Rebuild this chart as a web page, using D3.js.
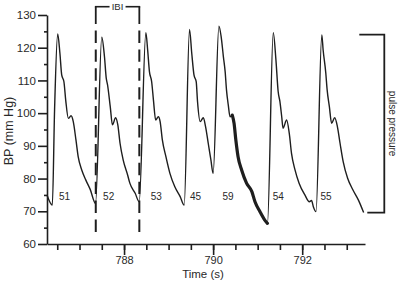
<!DOCTYPE html>
<html>
<head>
<meta charset="utf-8">
<script src="https://cdn.jsdelivr.net/npm/d3@7"></script>
<style>
  html, body { margin: 0; padding: 0; background: #fff; }
  svg { display: block; font-family: "Liberation Sans", Arial, sans-serif; }
</style>
</head>
<body>
<svg id="chart" width="400" height="282"></svg>
<script>
// ---- data ----
const time = [
  786.27, 786.39, 786.44, 786.51, 786.56, 786.60, 786.65, 786.69, 786.75, 786.81, 786.86, 786.92, 786.97, 787.05, 787.14, 787.24, 787.36,
  787.50, 787.56, 787.60, 787.63, 787.69, 787.74, 787.81, 787.86, 787.91, 787.98, 788.08, 788.13, 788.25, 788.34,
  788.49, 788.53, 788.57, 788.62, 788.66, 788.71, 788.77, 788.81, 788.86, 788.94, 789.03, 789.14, 789.26, 789.35,
  789.47, 789.52, 789.57, 789.62, 789.65, 789.71, 789.78, 789.83, 789.89, 789.95, 790.00,
  790.13, 790.18, 790.23, 790.27, 790.30, 790.34, 790.38, 790.43, 790.47, 790.51, 790.56, 790.64, 790.75, 790.87, 790.94, 791.05, 791.16, 791.22,
  791.35, 791.41, 791.46, 791.50, 791.54, 791.57, 791.65, 791.71, 791.76, 791.84, 791.93, 792.06, 792.16, 792.21, 792.25, 792.31,
  792.44, 792.47, 792.53, 792.56, 792.61, 792.66, 792.73, 792.79, 792.85, 792.92, 793.02, 793.14, 793.26, 793.38
];
const bp = [
  75.0, 71.9, 101.0, 124.2, 118.3, 111.7, 109.6, 104.0, 98.4, 99.2, 97.4, 91.8, 86.7, 82.6, 79.6, 76.7, 72.4,
  123.2, 117.3, 110.7, 108.6, 102.0, 96.4, 98.6, 96.4, 90.8, 85.7, 81.1, 78.6, 75.5, 72.9,
  124.6, 119.3, 112.7, 109.6, 104.0, 97.9, 98.9, 97.4, 91.8, 86.7, 81.6, 77.5, 74.5, 71.9,
  125.6, 118.3, 111.7, 109.6, 103.5, 97.4, 98.6, 95.9, 90.8, 85.7, 81.6,
  126.6, 123.4, 117.3, 112.7, 107.1, 102.5, 98.9, 99.4, 96.9, 91.8, 86.7, 82.6, 78.6, 76.0, 72.9, 69.9, 67.3, 66.3,
  124.6, 116.3, 106.6, 103.5, 98.9, 95.4, 97.9, 93.8, 87.7, 82.6, 78.6, 75.0, 72.9, 73.3, 71.4, 69.9,
  123.9, 119.3, 112.2, 107.1, 102.0, 96.9, 98.6, 95.9, 90.8, 85.2, 80.1, 76.5, 73.5, 69.6
];
const highlightRange = [790.43, 791.22];          // bold segment of beat "59"
const beatLabels = ["51", "52", "53", "45", "59", "54", "55"];
const beatLabelTimes = [786.54, 787.53, 788.60, 789.48, 790.21, 791.34, 792.41];
const beatLabelBP = 74.5;
const ibiTimes = [787.365, 788.343];
const ibiLabel = "IBI";
const pulsePressure = [124.0, 69.6];
const pulseLabel = "pulse pressure";
const xDomain = [786.27, 793.41];
const yDomain = [60, 130];
const xTickValues = [786.5, 787, 787.5, 788, 788.5, 789, 789.5, 790, 790.5, 791, 791.5, 792, 792.5, 793];
const xMajorTicks = [788, 790, 792];
const yTickValues = [60, 70, 80, 90, 100, 110, 120, 130];
const yMinorTicks = [65, 75, 85, 95, 105, 115, 125];
const xTitle = "Time (s)";
const yTitle = "BP (mm Hg)";

// ---- drawing ----
const ink = "#1e1e1e";
const textInk = "#2a2a2a";
const svg = d3.select("#chart");
const x = d3.scaleLinear().domain(xDomain).range([47, 365]);
const y = d3.scaleLinear().domain(yDomain).range([244, 15]);

// axes
svg.append("g").attr("transform", "translate(0,244)")
  .call(d3.axisBottom(x).tickValues(xTickValues).tickSize(6).tickSizeOuter(0).tickFormat(""));
const gx2 = svg.append("g").attr("transform", "translate(0,244)")
  .call(d3.axisBottom(x).tickValues(xMajorTicks).tickSize(11).tickSizeOuter(0).tickPadding(1.5).tickFormat(d3.format("d")));
gx2.select(".domain").remove();
svg.append("g").attr("transform", "translate(47,0)")
  .call(d3.axisLeft(y).tickValues(yTickValues).tickSize(9).tickSizeOuter(0).tickPadding(2));
const gy2 = svg.append("g").attr("transform", "translate(47,0)")
  .call(d3.axisLeft(y).tickValues(yMinorTicks).tickSize(3).tickSizeOuter(0).tickFormat(""));
gy2.select(".domain").remove();

svg.selectAll(".domain, .tick line").attr("stroke", ink).attr("stroke-width", 1.6);
svg.selectAll(".tick text").attr("fill", textInk).attr("font-size", 11.5)
  .attr("font-family", "Liberation Sans, Arial, sans-serif");
gx2.selectAll(".tick text").attr("font-size", 11);

// axis titles
svg.append("text").attr("x", 203).attr("y", 277.5)
  .attr("text-anchor", "middle").attr("font-size", 11.5).attr("fill", textInk).text(xTitle);
svg.append("text").attr("transform", "translate(13,131) rotate(-90)")
  .attr("text-anchor", "middle").attr("font-size", 12.5).attr("fill", textInk).text(yTitle);

// IBI bracket
const ibiTop = 6.7;
const ibiMid = (x(ibiTimes[0]) + x(ibiTimes[1])) / 2;
ibiTimes.forEach(t => {
  svg.append("line").attr("x1", x(t)).attr("x2", x(t)).attr("y1", ibiTop).attr("y2", 24)
    .attr("stroke", ink).attr("stroke-width", 1.8);
  svg.append("line").attr("x1", x(t)).attr("x2", x(t)).attr("y1", 30.5).attr("y2", 232)
    .attr("stroke", ink).attr("stroke-width", 2).attr("stroke-dasharray", "12.4,6.5");
});
svg.append("line").attr("x1", x(ibiTimes[0]) - 0.9).attr("x2", ibiMid - 8).attr("y1", ibiTop).attr("y2", ibiTop)
  .attr("stroke", ink).attr("stroke-width", 1.6);
svg.append("line").attr("x1", ibiMid + 8).attr("x2", x(ibiTimes[1]) + 0.9).attr("y1", ibiTop).attr("y2", ibiTop)
  .attr("stroke", ink).attr("stroke-width", 1.6);
svg.append("text").attr("x", ibiMid).attr("y", 10).attr("text-anchor", "middle")
  .attr("font-size", 9.5).attr("fill", textInk).text(ibiLabel);

// waveform
const pts = time.map((t, i) => [t, bp[i]]);
const line = d3.line().x(d => x(d[0])).y(d => y(d[1])).curve(d3.curveMonotoneX);
svg.append("path").datum(pts).attr("d", line).attr("fill", "none")
  .attr("stroke", ink).attr("stroke-width", 1.4).attr("stroke-linejoin", "round");
const hi = pts.filter(d => d[0] >= highlightRange[0] && d[0] <= highlightRange[1]);
svg.append("path").datum(hi).attr("d", line).attr("fill", "none")
  .attr("stroke", ink).attr("stroke-width", 3.2).attr("stroke-linejoin", "round").attr("stroke-linecap", "round");

// beat labels
svg.selectAll(".beatLabel").data(beatLabels).enter().append("text")
  .attr("x", (d, i) => x(beatLabelTimes[i]))
  .attr("y", y(beatLabelBP)).attr("dy", "0.35em")
  .attr("font-size", 10).attr("fill", textInk).text(d => d);

// pulse pressure bracket
const bx = 384.3;
svg.append("path")
  .attr("d", `M359.3,${y(pulsePressure[0])}H${bx}V${y(pulsePressure[1])}H367.3`)
  .attr("fill", "none").attr("stroke", ink).attr("stroke-width", 1.8);
svg.append("text").attr("transform", `translate(388.5,${(y(pulsePressure[0]) + y(pulsePressure[1])) / 2}) rotate(90)`)
  .attr("text-anchor", "middle").attr("font-size", 10).attr("fill", textInk).text(pulseLabel);
</script>
</body>
</html>
